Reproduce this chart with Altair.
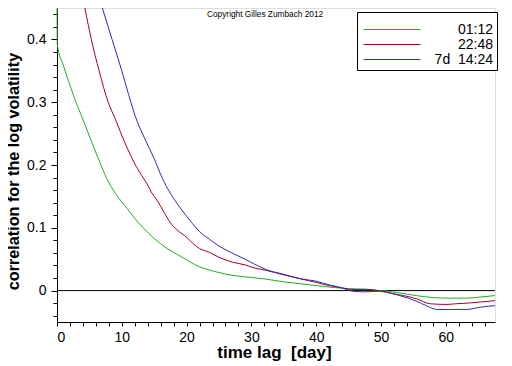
import altair as alt
import pandas as pd

# --- data ---
series_names = ["01:12", "22:48", "7d\u00a0\u00a014:24"]
series_colors = ["#1fae1f", "#a3001e", "#2c2cc0"]

green_lag = [0, 0.05, 1, 2, 3, 3.6, 5, 6.5, 7.7, 9, 10.8, 12, 13.3, 15, 17, 19, 22, 24.5,
             27.2, 30, 32.4, 35, 37.5, 40, 42.6, 45, 47.8, 50, 51, 53, 55.5, 58, 60.5, 63.3, 65.5, 67.6]
green_val = [0.45, 0.392, 0.358, 0.327, 0.298, 0.283, 0.246, 0.207, 0.178, 0.155, 0.131, 0.115, 0.100,
             0.083, 0.067, 0.055, 0.038, 0.030, 0.024, 0.021, 0.018, 0.014, 0.011, 0.008, 0.005,
             0.003, 0.002, 0.000, -0.001, -0.004, -0.008, -0.011, -0.012, -0.012, -0.010, -0.008]

red_lag = [4.3, 5.3, 6.5, 7.9, 9.0, 10.5, 12.1, 13.4, 14, 14.5, 15.5, 16.5, 17.5, 18.5, 20.1, 21, 22,
           23.5, 25, 27.2, 29, 30.5, 32.4, 35, 37.5, 40, 42, 43.7, 45.5, 47.8, 50, 51.9, 53.5,
           55.5, 57.6, 60.2, 61.5, 63.3, 65.5, 67.6]
red_val = [0.45, 0.40, 0.35, 0.30, 0.273, 0.235, 0.200, 0.178, 0.168, 0.158, 0.143, 0.125, 0.108,
           0.097, 0.084, 0.075, 0.067, 0.061, 0.053, 0.045, 0.041, 0.036, 0.032, 0.025, 0.019,
           0.013, 0.008, 0.005, 0.002, 0.002, -0.001, -0.005, -0.008, -0.013, -0.021, -0.022,
           -0.021, -0.020, -0.018, -0.016]

blue_lag = [7.0, 8.5, 10.0, 11.4, 12.1, 13.5, 15.0, 16.3, 17.5, 19, 20.5, 22, 23.5, 25, 27.2,
            29, 30.5, 32.4, 35, 37.5, 40, 42, 43.7, 45.7, 47.5, 49.8, 51.5, 52.9, 54.2, 55.5, 57,
            58.6, 61, 63.3, 65, 66.4, 67.6]
blue_val = [0.45, 0.40, 0.35, 0.30, 0.277, 0.243, 0.210, 0.178, 0.155, 0.132, 0.112, 0.094,
            0.082, 0.071, 0.059, 0.050, 0.042, 0.033, 0.026, 0.019, 0.015, 0.009, 0.005, -0.001,
            -0.002, -0.001, -0.004, -0.008, -0.012, -0.017, -0.024, -0.030, -0.030, -0.030,
            -0.027, -0.025, -0.024]

zero_value = [0]
x_ticks = list(range(0, 68, 2))
y_ticks = [-0.04, -0.02, 0, 0.02, 0.04, 0.06, 0.08, 0.1, 0.12, 0.14, 0.16, 0.18, 0.2, 0.22,
           0.24, 0.26, 0.28, 0.3, 0.32, 0.34, 0.36, 0.38, 0.4, 0.42, 0.44]
copyright_text = ["Copyright Gilles Zumbach 2012"]

rows = []
for name, lags, vals in zip(series_names, [green_lag, red_lag, blue_lag], [green_val, red_val, blue_val]):
    for i, (l, v) in enumerate(zip(lags, vals)):
        rows.append({"series": name, "lag": l, "corr": v, "order": i})
df = pd.DataFrame(rows)

FONT = "Liberation Sans"
MAJOR = "abs(datum.value*10 - round(datum.value*10)) < 0.001"

xscale = alt.Scale(domain=[0, 67.6], nice=False, zero=False)
yscale = alt.Scale(domain=[-0.05, 0.45], nice=False, zero=False)

x_axis = alt.Axis(
    values=x_ticks, format="d",
    labelExpr="datum.value % 10 == 0 ? datum.label : ''",
    labelOverlap=False,
    tickSize=4, labelPadding=4, grid=False,
    domainColor="black", tickColor="black", labelColor="black",
    labelFont=FONT, labelFontSize=14,
    title="time lag\u00a0\u00a0[day]", titleFont=FONT, titleFontSize=17, titleFontWeight="bold",
    titleColor="black", titleX=217, titleY=35, titleBaseline="alphabetic", titleAlign="center",
)
y_axis = alt.Axis(
    values=y_ticks,
    labelExpr=MAJOR + " ? (abs(datum.value) < 0.001 ? '0' : format(datum.value, '.1f')) : ''",
    labelOverlap=False,
    tickSize={"condition": {"test": MAJOR, "value": 6}, "value": 4},
    labelPadding=5, grid=False,
    domainColor="black", tickColor="black", labelColor="black",
    labelFont=FONT, labelFontSize=14,
    title="correlation for the log volatility", titleFont=FONT, titleFontSize=16.2,
    titleFontWeight="bold", titleColor="black", titleAngle=270,
    titleX=-44, titleY=163, titleAlign="center", titleBaseline="middle",
)

lines = alt.Chart(df).mark_line(strokeWidth=1, interpolate="monotone").encode(
    x=alt.X("lag:Q", scale=xscale, axis=x_axis),
    y=alt.Y("corr:Q", scale=yscale, axis=y_axis),
    color=alt.Color(
        "series:N",
        scale=alt.Scale(domain=series_names, range=series_colors),
        sort=series_names,
        legend=alt.Legend(
            orient="none", legendX=300, legendY=4,
            title="\u00a0", titleFontSize=7, titlePadding=0,
            symbolType="M-1,0H13.25", symbolSize=64, symbolStrokeWidth=1,
            labelAlign="right", labelOffset=118.5, labelFont=FONT, labelFontSize=14,
            labelExpr="datum.label + '\u00a0'",
            labelColor="black", strokeColor="black", fillColor="white",
            padding=3.5, rowPadding=1,
        ),
    ),
    order="order:Q",
)

zero = alt.Chart(pd.DataFrame({"corr": zero_value})).mark_rule(color="black", strokeWidth=1).encode(
    y=alt.Y("corr:Q", scale=yscale, axis=y_axis)
)

copy = alt.Chart(pd.DataFrame({"t": copyright_text})).mark_text(
    align="left", baseline="alphabetic", font=FONT, fontSize=8.3, color="black"
).encode(text="t:N", x=alt.value(150), y=alt.value(9))

chart = alt.layer(zero, lines, copy).properties(
    width=438, height=314,
    autosize=alt.AutoSizeParams(type="none"),
    padding={"left": 49, "top": 0, "right": 9, "bottom": 43},
).configure_view(stroke=None).configure(background="white")

chart.save("out.html", embed_options={"renderer": "svg", "actions": False})
